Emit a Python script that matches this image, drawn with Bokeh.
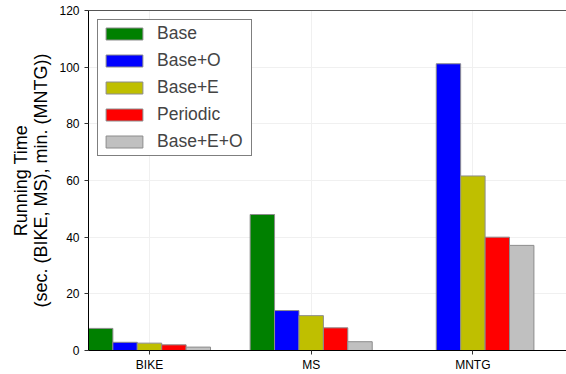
from bokeh.plotting import figure
from bokeh.models import ColumnDataSource, FixedTicker, LinearAxis, Range1d, Legend, LegendItem
from bokeh.transform import dodge
from bokeh.embed import file_html
from bokeh.resources import INLINE

categories = ["BIKE", "MS", "MNTG"]
series_names = ["Base", "Base+O", "Base+E", "Periodic", "Base+E+O"]
base = [7.8, 48.0, float("nan")]
base_o = [2.9, 14.1, 101.2]
base_e = [2.6, 12.3, 61.6]
periodic = [2.0, 8.0, 40.0]
base_e_o = [1.2, 3.1, 37.1]
colors = ["#008000", "#0000ff", "#bfbf00", "#ff0000", "#c0c0c0"]
y_ticks = [0, 20, 40, 60, 80, 100, 120]

series_values = [base, base_o, base_e, periodic, base_e_o]

data = {"x": list(range(len(categories)))}
keys = ["s%d" % i for i in range(len(series_names))]
for k, vals in zip(keys, series_values):
    data[k] = vals
source = ColumnDataSource(data)

bar_w = 0.151
FONT = "Liberation Sans"

p = figure(width=566, height=374, output_backend="svg", toolbar_location=None,
           x_range=Range1d(-0.3772, 2.579), y_range=Range1d(0, 120),
           min_border_left=88, min_border_right=0, min_border_top=10, min_border_bottom=24)
p.outline_line_color = None
p.background_fill_color = "white"
p.border_fill_color = "white"

renderers = []
n = len(series_names)
for j, (k, name, c) in enumerate(zip(keys, series_names, colors)):
    r = p.vbar(x=dodge("x", (j - (n - 1) / 2) * bar_w, range=p.x_range), top=k, bottom=0,
               width=bar_w, source=source, fill_color=c, line_color="#8c8c8c", line_width=1)
    renderers.append((name, r))

# x axis
p.xaxis.ticker = FixedTicker(ticks=list(range(len(categories))))
p.xaxis.major_label_overrides = {i: c for i, c in enumerate(categories)}
p.xaxis.minor_tick_line_color = None
p.xaxis.major_tick_out = 4
p.xaxis.major_tick_in = 0
p.xaxis.major_label_standoff = 3
p.xaxis.axis_label_standoff = 0
p.xaxis.axis_line_color = "black"
p.xaxis.major_tick_line_color = "#333333"
p.xaxis.major_label_text_font = FONT
p.xaxis.major_label_text_font_size = "12px"
p.xaxis.major_label_text_color = "black"

# y axis
p.yaxis.ticker = FixedTicker(ticks=y_ticks)
p.yaxis.minor_tick_line_color = None
p.yaxis.major_tick_out = 4
p.yaxis.major_tick_in = 0
p.yaxis.major_label_standoff = 5
p.yaxis.axis_line_color = "black"
p.yaxis.major_tick_line_color = "#333333"
p.yaxis.major_label_text_font = FONT
p.yaxis.major_label_text_font_size = "12px"
p.yaxis.major_label_text_color = "black"
p.yaxis.axis_label = "Running Time\n(sec. (BIKE, MS), min. (MNTG))"
p.yaxis.axis_label_text_font = FONT
p.yaxis.axis_label_text_font_size = "18px"
p.yaxis.axis_label_text_font_style = "normal"
p.yaxis.axis_label_text_color = "black"
p.yaxis.axis_label_text_line_height = 1.0
p.yaxis.axis_label_standoff = 5

# top border line
top_axis = LinearAxis(ticker=FixedTicker(ticks=[]), major_tick_out=0, major_tick_in=0,
                      minor_tick_out=0, minor_tick_in=0, major_label_text_font_size="0px",
                      axis_line_color="#555555")
p.add_layout(top_axis, "above")

p.xgrid.grid_line_color = "#f0f0f0"
p.ygrid.grid_line_color = "#f0f0f0"

legend = Legend(items=[LegendItem(label=name, renderers=[r]) for name, r in renderers],
                location="top_left", margin=9, padding=3, spacing=6,
                glyph_width=46, glyph_height=15, label_standoff=10, label_width=91,
                label_text_font=FONT, label_text_font_size="17.5px", label_height=21,
                border_line_color="black", border_line_width=1,
                background_fill_color="white", background_fill_alpha=1)
p.add_layout(legend)

open("out.html", "w").write(file_html(p, INLINE))
